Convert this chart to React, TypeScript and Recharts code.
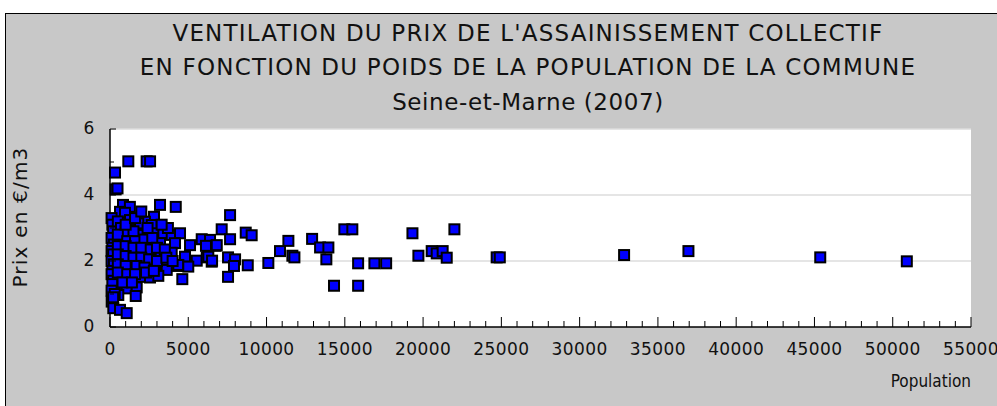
import { ScatterChart, Scatter, XAxis, YAxis, CartesianGrid } from 'recharts'

// population des communes (habitants)
const population = [
  1170, 2340, 2560, 320, 360, 480,
  830, 1270, 640, 958, 3195, 4200, 2810,
  2236, 2665, 1808, 1278, 320, 640,
  2026, 2875, 3406, 3942, 4473, 5112, 5859, 6390,
  320, 850, 1387, 1808, 2556, 3195, 4153,
  640, 1169, 1808, 2345, 3086, 3942,
  4792, 5540, 6179, 6498,
  211, 748, 1278, 1917, 2345, 2875, 3514, 4262, 4901,
  320, 850, 1387, 2026, 3623,
  640, 1278, 1917, 2556, 3086, 4620,
  428, 1067, 1706, 530, 1642, 109, 211, 640, 1067,
  7670, 7135, 8670, 9050, 7670, 6750, 6130, 7540, 7990, 7920, 8800, 7540,
  6280, 6520, 6820, 4790, 4365, 5000,
  100, 150, 200, 100, 250, 150, 100, 200, 100, 250, 150, 100, 200, 150, 100, 300, 200,
  500, 700, 1000, 1500, 500, 1100, 1600, 2200, 2700, 500, 1000, 1500, 2000, 2600, 3000, 3500,
  500, 1000, 1500, 2000, 2500, 3000, 3600, 4000, 500, 1000, 1700, 2200,
  500, 1100, 1600, 2300, 2800, 800, 1400, 1000, 1600, 2000, 2400, 3700, 3300,
  10115, 10860, 11395, 11650, 11780, 12910, 13420, 13950, 13820, 14310,
  14970, 15480, 15850, 15850, 16890, 17640, 19320, 19700, 20550, 20870,
  21250, 21510, 22000, 24700, 24900, 32840, 36950, 45370, 50900,
]

// prix en €/m3
const prix = [
  5.02, 5.02, 5.02, 4.68, 4.17, 4.2,
  3.7, 3.64, 3.49, 3.46, 3.7, 3.64, 3.34,
  3.19, 3.09, 3.14, 3.24, 3.04, 2.99,
  2.79, 2.84, 2.84, 2.79, 2.84, 2.48, 2.66, 2.64,
  2.64, 2.69, 2.74, 2.54, 2.54, 2.54, 2.54,
  2.38, 2.28, 2.28, 2.18, 2.23, 2.25,
  2.11, 2.01, 2.11, 1.98,
  2.13, 2.03, 1.98, 1.93, 1.88, 1.83, 1.88, 1.85, 1.85,
  1.78, 1.78, 1.68, 1.73, 1.73,
  1.48, 1.52, 1.52, 1.5, 1.55, 1.45,
  1.22, 1.17, 1.2, 0.97, 0.94, 0.77, 0.57, 0.52, 0.42,
  3.39, 2.96, 2.86, 2.78, 2.66, 2.46, 2.46, 2.11, 2.05, 1.85, 1.87, 1.52,
  2.13, 2.01, 2.48, 2.13, 1.88, 1.83,
  3.3, 3.1, 2.9, 2.7, 2.5, 2.4, 2.3, 2.2, 2.0, 1.9, 1.7, 1.6, 1.4, 1.3, 1.1, 1.0, 0.9,
  3.2, 3.0, 2.9, 2.9, 2.8, 2.6, 2.6, 2.65, 2.7, 2.45, 2.45, 2.4, 2.4, 2.35, 2.4, 2.35,
  2.2, 2.15, 2.1, 2.1, 2.05, 2.0, 2.1, 2.0, 1.9, 1.85, 1.85, 1.8,
  1.65, 1.6, 1.6, 1.65, 1.7, 1.35, 1.35, 3.1, 3.3, 3.5, 3.0, 3.0, 3.1,
  1.94, 2.3, 2.61, 2.16, 2.11, 2.67, 2.41, 2.41, 2.05, 1.25,
  2.96, 2.96, 1.93, 1.25, 1.93, 1.93, 2.84, 2.16, 2.3, 2.23,
  2.3, 2.1, 2.96, 2.11, 2.11, 2.18, 2.3, 2.11, 1.99,
]

const xLabels = [0, 5000, 10000, 15000, 20000, 25000, 30000, 35000, 40000, 45000, 50000, 55000]
const yLabels = [0, 2, 4, 6]
const xTicks = Array.from({ length: 56 }, (_, i) => i * 1000)
const yTicks = [0, 1, 2, 3, 4, 5, 6]

const titleLines = [
  "VENTILATION DU PRIX DE L'ASSAINISSEMENT COLLECTIF",
  'EN FONCTION DU POIDS DE LA POPULATION DE LA COMMUNE',
  'Seine-et-Marne (2007)',
]

const data = population.map((p, i) => ({ population: p, prix: prix[i] }))

const font = 'DejaVu Sans'

const XTick = (props: any) => {
  const { x, y, payload } = props
  const major = xLabels.includes(payload.value)
  return (
    <g>
      <line x1={x} y1={y} x2={x} y2={y - (major ? 10 : 6)} stroke="#000" />
      {major && (
        <text x={x} y={y + 23} textAnchor="middle" dominantBaseline="middle" fontSize={17} letterSpacing={0.4} fontFamily={font} fill="#111">
          {payload.value}
        </text>
      )}
    </g>
  )
}

const YTick = (props: any) => {
  const { x, y, payload } = props
  const major = yLabels.includes(payload.value)
  return (
    <g>
      <line x1={x} y1={y} x2={x + (major ? 6 : 4)} y2={y} stroke="#000" />
      {major && (
        <text x={x - 21} y={y} textAnchor="middle" dominantBaseline="middle" fontSize={17} fontFamily={font} fill="#111">
          {payload.value}
        </text>
      )}
    </g>
  )
}

const Square = (props: any) => {
  const { cx, cy } = props
  return <rect x={cx - 5} y={cy - 5} width={10} height={10} fill="#0000ff" stroke="#000" strokeWidth={2} />
}

export default function App() {
  return (
    <div style={{ position: 'absolute', left: 0, top: 0, width: 997, height: 406, background: '#fff', overflow: 'hidden' }}>
      <div
        style={{
          position: 'absolute',
          left: 5,
          top: 13,
          width: 992,
          height: 393,
          background: '#c8c8c8',
          borderLeft: '1px solid #000',
          borderTop: '1px solid #000',
        }}
      />
      {titleLines.map((t, i) => (
        <div
          key={i}
          style={{
            position: 'absolute',
            left: 28,
            width: 1000,
            top: [33, 67, 102][i] - 14,
            height: 28,
            lineHeight: '28px',
            textAlign: 'center',
            fontFamily: font,
            fontSize: 23,
            letterSpacing: i < 2 ? 1.2 : 0.6,
            color: '#111',
            whiteSpace: 'nowrap',
          }}
        >
          {t}
        </div>
      ))}
      <div
        style={{
          position: 'absolute',
          left: 20 - 80,
          top: 217 - 12,
          width: 160,
          height: 24,
          lineHeight: '24px',
          textAlign: 'center',
          transform: 'rotate(-90deg)',
          fontFamily: font,
          fontSize: 20,
          letterSpacing: 1.2,
          color: '#111',
          whiteSpace: 'nowrap',
        }}
      >
        Prix en €/m3
      </div>
      <div
        style={{
          position: 'absolute',
          right: 997 - 971,
          top: 381 - 12,
          height: 24,
          lineHeight: '24px',
          fontFamily: font,
          fontSize: 17,
          fontStretch: 'condensed',
          color: '#111',
        }}
      >
        Population
      </div>
      <div style={{ position: 'absolute', left: 0, top: 0 }}>
        <ScatterChart width={997} height={406} margin={{ top: 129, right: 26, bottom: 39, left: 50 }}>
          <CartesianGrid fill="#fff" fillOpacity={1} vertical={false} horizontalValues={[2, 4, 6]} stroke="#dcdcdc" strokeWidth={1.5} />
          <XAxis
            type="number"
            dataKey="population"
            domain={[0, 55000]}
            ticks={xTicks}
            interval={0}
            height={40}
            tickSize={0}
            tickMargin={0}
            tickLine={false}
            axisLine={{ stroke: '#000', strokeWidth: 1.5 }}
            tick={<XTick />}
          />
          <YAxis
            type="number"
            dataKey="prix"
            domain={[0, 6]}
            ticks={yTicks}
            interval={0}
            width={60}
            tickSize={0}
            tickMargin={0}
            tickLine={false}
            axisLine={{ stroke: '#000', strokeWidth: 1.5 }}
            tick={<YTick />}
          />
          <Scatter data={data} shape={<Square />} isAnimationActive={false} />
        </ScatterChart>
      </div>
    </div>
  )
}
